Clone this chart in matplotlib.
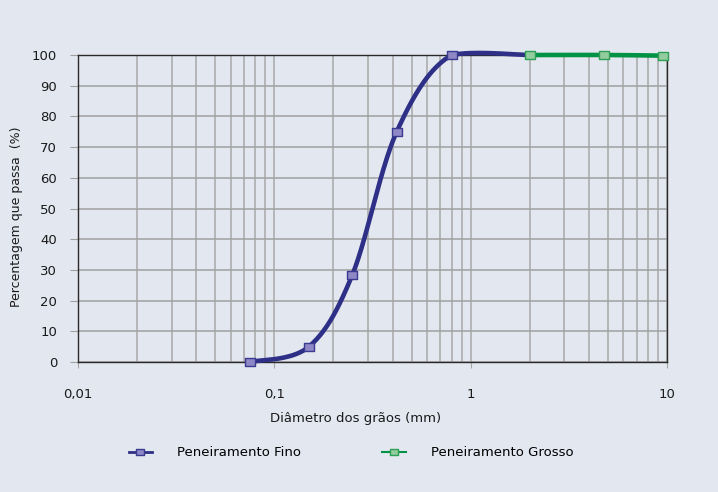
import numpy as np
import matplotlib
matplotlib.use("Agg")
import matplotlib.pyplot as plt
from matplotlib.lines import Line2D
from matplotlib.path import Path
from matplotlib.ticker import FixedLocator, FuncFormatter, NullFormatter

# granulometria - peneiramento fino e grosso
fino_d = [0.075, 0.15, 0.25, 0.42, 0.8, 2.0]
fino_p = [0.0, 5.0, 28.5, 75.0, 100.0, 100.0]
grosso_d = [2.0, 4.8, 9.5]
grosso_p = [100.0, 100.0, 99.8]

y_ticks = [0, 10, 20, 30, 40, 50, 60, 70, 80, 90, 100]
x_ticks = [0.01, 0.1, 1, 10]
x_labels = ["0,01", "0,1", "1", "10"]

bg = "#e3e7f0"
fino_line = "#2e2f86"
fino_edge = "#3a3a90"
fino_face = "#8f88c6"
grosso_line = "#009245"
grosso_edge = "#2ea055"
grosso_face = "#93cc9f"

# flat rectangular marker (wider than tall)
rect = Path([(-1.3, -1), (1.3, -1), (1.3, 1), (-1.3, 1), (-1.3, -1)],
            [Path.MOVETO, Path.LINETO, Path.LINETO, Path.LINETO, Path.CLOSEPOLY])


def smooth(x, y, n=40, sx=196.5, sy=3.07, margin=1.5):
    # Catmull-Rom / Bezier smoothing in screen-like units (log x),
    # control points kept close to the segment's y range to limit overshoot
    u = np.log10(np.asarray(x, float)) * sx
    v = np.asarray(y, float) * sy
    p = np.column_stack([u, v])
    p = np.vstack([p[0], p, p[-1]])
    m = margin * sy
    out = []
    t = np.linspace(0, 1, n)[:, None]
    for i in range(1, len(p) - 2):
        p0, p1, p2, p3 = p[i - 1], p[i], p[i + 1], p[i + 2]
        c1 = p1 + (p2 - p0) / 6.0
        c2 = p2 - (p3 - p1) / 6.0
        lo, hi = min(p1[1], p2[1]) - m, max(p1[1], p2[1]) + m
        c1[1] = np.clip(c1[1], lo, hi)
        c2[1] = np.clip(c2[1], lo, hi)
        seg = ((1 - t) ** 3) * p1 + 3 * ((1 - t) ** 2) * t * c1 + 3 * (1 - t) * t ** 2 * c2 + t ** 3 * p2
        out.append(seg if i == 1 else seg[1:])
    out = np.vstack(out)
    return 10 ** (out[:, 0] / sx), out[:, 1] / sy


plt.rcParams["font.family"] = "DejaVu Sans"
plt.rcParams["font.size"] = 9.5

fig = plt.figure(figsize=(7.18, 4.92), dpi=100, facecolor=bg)
ax = fig.add_axes([0.1086, 0.2642, 0.8204, 0.624])
ax.set_facecolor(bg)

ax.set_xscale("log")
ax.set_xlim(0.01, 10)
ax.set_ylim(0, 100)

ax.xaxis.set_major_locator(FixedLocator(x_ticks))
ax.xaxis.set_major_formatter(FuncFormatter(lambda v, pos: x_labels[x_ticks.index(v)] if v in x_ticks else ""))
ax.xaxis.set_minor_locator(FixedLocator([m * 10.0 ** k for k in (-2, -1, 0) for m in range(2, 10)]))
ax.xaxis.set_minor_formatter(NullFormatter())
ax.set_yticks(y_ticks)

ax.grid(True, which="both", axis="x", color="#a8a8a8", lw=1.1)
ax.grid(True, which="major", axis="y", color="#a0a0a0", lw=1.1)
ax.set_axisbelow(True)

ax.tick_params(axis="x", which="major", length=4, color="#a8a8a8", pad=15, labelsize=9.5, labelcolor="#1a1a1a")
ax.tick_params(axis="x", which="minor", length=0)
ax.tick_params(axis="y", length=6, color="#a0a0a0", pad=9, labelsize=9.5, labelcolor="#1a1a1a")
for s in ax.spines.values():
    s.set_color("#2a2a2a")
    s.set_linewidth(1.0)

xf, yf = smooth(fino_d, fino_p)
ax.plot(xf, yf, color=fino_line, lw=3.3, solid_capstyle="round", clip_on=False, zorder=3)
ax.plot(fino_d[:-1], fino_p[:-1], ls="none", marker=rect, ms=9.8 * 0.72, mfc=fino_face, mec=fino_edge,
        mew=1.0, clip_on=False, zorder=4)

xg, yg = smooth(grosso_d, grosso_p)
ax.plot(xg, yg, color=grosso_line, lw=3.3, solid_capstyle="projecting", clip_on=False, zorder=5)
ax.plot(grosso_d, grosso_p, ls="none", marker=rect, ms=9.8 * 0.72, mfc=grosso_face, mec=grosso_edge,
        mew=1.0, clip_on=False, zorder=6)

ax.set_xlabel("Diâmetro dos grãos (mm)", fontsize=9.5, color="#1a1a1a")
ax.xaxis.set_label_coords(0.4713, -0.163)
ax.set_ylabel("Percentagem que passa  (%)", fontsize=9, color="#1a1a1a")
ax.yaxis.set_label_coords(-0.0934, 0.474)

handles = [
    Line2D([], [], color=fino_line, lw=2, marker=rect, ms=8 * 0.72, mfc=fino_face, mec=fino_edge),
    Line2D([], [], color=grosso_line, lw=1.5, marker=rect, ms=8 * 0.72, mfc=grosso_face, mec=grosso_edge),
]
fig.legend(handles, ["Peneiramento Fino", "Peneiramento Grosso"], loc="center left", bbox_to_anchor=(0.1625, 0.0793),
           ncol=2, frameon=False, handlelength=1.8, handletextpad=1.9, columnspacing=6.1, fontsize=9.5)

fig.savefig("out.png", dpi=100, facecolor=bg)
